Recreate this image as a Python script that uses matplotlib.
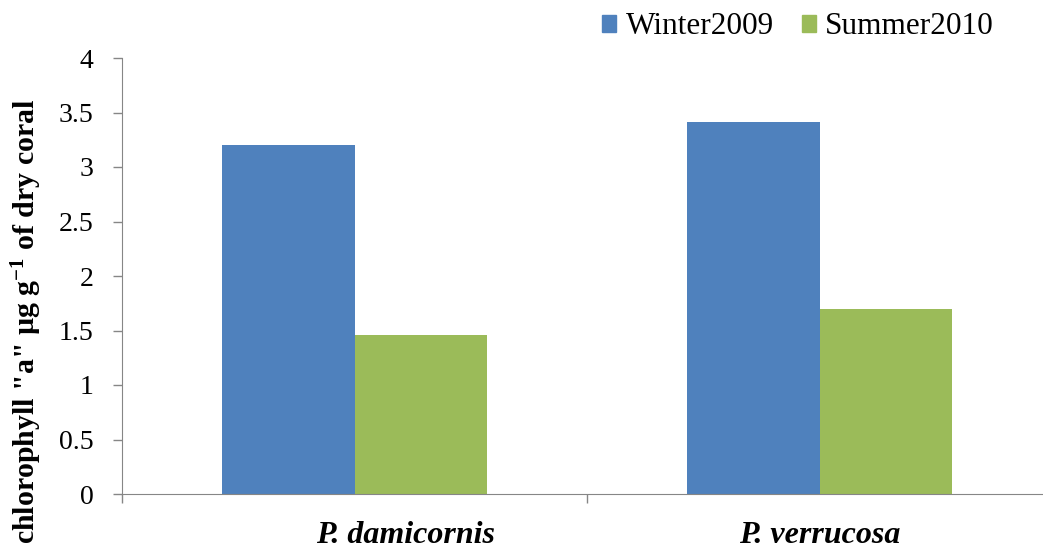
import matplotlib
matplotlib.use('Agg')
import matplotlib.pyplot as plt
import numpy as np
from matplotlib.patches import Patch

species = ['P. damicornis', 'P. verrucosa']
series = ['Winter2009', 'Summer2010']
winter = [3.20, 3.41]
summer = [1.46, 1.70]
yticks = [0, 0.5, 1, 1.5, 2, 2.5, 3, 3.5, 4]
ytick_labels = ['0', '0.5', '1', '1.5', '2', '2.5', '3', '3.5', '4']
label_shift = [0.11, 0.0]  # the first category label sits a bit right of centre in the original

BLUE = '#4F81BD'
GREEN = '#9BBB59'
SPINE = '#868686'

plt.rcParams['font.family'] = ['Liberation Serif', 'DejaVu Serif']
plt.rcParams['mathtext.fontset'] = 'custom'
plt.rcParams['mathtext.rm'] = 'Liberation Serif'
plt.rcParams['mathtext.bf'] = 'Liberation Serif:bold'

fig = plt.figure(figsize=(10.43, 5.51), dpi=100)
ax = fig.add_axes([122 / 1043, 57 / 551, 930 / 1043, 436 / 551])

x = np.arange(len(species))
w = 0.286
ax.bar(x - w / 2, winter, w, color=BLUE, label=series[0])
ax.bar(x + w / 2, summer, w, color=GREEN, label=series[1])

ax.set_xlim(-0.5, len(species) - 0.5)
ax.set_ylim(0, 4)
ax.set_yticks(yticks)
ax.set_yticklabels(ytick_labels, fontsize=20)
ax.tick_params(axis='y', direction='out', length=6.5, width=1, color=SPINE, pad=14)

# category boundary ticks on x
ax.set_xticks([-0.5, 0.5, 1.5])
ax.set_xticklabels([])
ax.tick_params(axis='x', direction='out', length=6.5, width=1, color=SPINE)

for s in ['top', 'right']:
    ax.spines[s].set_visible(False)
for s in ['left', 'bottom']:
    ax.spines[s].set_color(SPINE)

for xi, dx, name in zip(x, label_shift, species):
    ax.annotate(name, xy=(xi + dx, 0), xycoords=('data', 'figure pixels'),
                xytext=(0, 1), textcoords='offset pixels',
                ha='center', va='bottom', fontsize=23,
                fontweight='bold', fontstyle='italic')

fig.text(27 / 1043, 1 - 321 / 551, 'chlorophyll "a" µg g$\\mathbf{^{-1}}$ of dry coral',
         rotation=90, ha='center', va='center', fontsize=21.5, fontweight='bold')

handles = [Patch(color=BLUE), Patch(color=GREEN)]
fig.legend(handles, series, loc='center left', bbox_to_anchor=(602 / 1043, 1 - 27 / 551),
           ncol=2, frameon=False, fontsize=22.5, handlelength=0.45, handleheight=0.45,
           handletextpad=0.3, columnspacing=0.9, borderpad=0, borderaxespad=0)

fig.savefig('out.png', dpi=100)
